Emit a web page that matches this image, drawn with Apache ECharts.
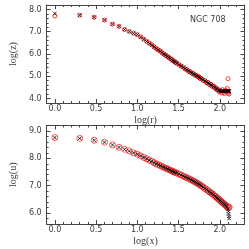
<!DOCTYPE html>
<html><head><meta charset="utf-8">
<script src="https://cdn.jsdelivr.net/npm/echarts@6/dist/echarts.min.js"></script>
<style>html,body{margin:0;padding:0;background:#fff}#c{width:249px;height:249px}</style>
</head><body><div id="c"></div>
<script>
// log of radius (x values shared by both panels)
const xLog = [0,0.301,0.477,0.602,0.699,0.778,0.845,0.903,0.954,1.000,
 1.041,1.079,1.114,1.146,1.176,1.204,1.230,1.255,1.279,1.301,
 1.322,1.342,1.362,1.380,1.398,1.415,1.431,1.447,1.462,1.477,
 1.505,1.531,1.556,1.580,1.602,1.623,1.643,1.663,1.681,1.699,1.716,1.732,1.748,1.763,1.778,
 1.799,1.820,1.839,1.857,1.875,1.892,1.908,1.924,1.940,1.954,1.968,1.982,1.996,2.009,2.021,2.033,2.045,2.057,2.068,2.079,2.090,
 2.100,2.104,2.107,2.111,2.114];
// top panel: log(z)
const zBlack = [7.82,7.74,7.65,7.52,7.34,7.24,7.10,7.01,6.93,6.87,
 6.76,6.66,6.57,6.48,6.40,6.32,6.25,6.18,6.12,6.06,
 6.00,5.95,5.89,5.85,5.80,5.75,5.71,5.67,5.63,5.59,
 5.52,5.46,5.40,5.34,5.29,5.24,5.19,5.15,5.11,5.07,5.03,5.00,4.96,4.93,4.89,
 4.84,4.79,4.74,4.70,4.66,4.62,4.58,4.54,4.50,4.46,4.42,4.38,4.35,4.34,4.33,4.34,4.33,4.34,4.35,4.34,4.33,
 4.34,4.33,4.35,4.34,4.33];
const zRed = [7.70,7.74,7.65,7.52,7.34,7.24,7.10,7.01,6.93,6.87,
 6.77,6.66,6.56,6.48,6.41,6.32,6.24,6.18,6.13,6.05,
 6.00,5.94,5.90,5.84,5.80,5.76,5.70,5.67,5.62,5.59,
 5.53,5.45,5.41,5.33,5.30,5.22,5.20,5.13,5.12,5.05,5.04,4.98,4.97,4.90,4.90,
 4.81,4.80,4.71,4.72,4.62,4.64,4.55,4.56,4.46,4.48,4.38,4.40,4.30,4.36,4.25,4.40,4.28,4.22,4.38,4.30,4.45,
 4.89,4.24,4.30,4.20,null];
// bottom panel: log(u)
const uBlack = [8.76,8.73,8.66,8.59,8.49,8.40,8.33,8.27,8.20,8.15,
 8.09,8.03,7.98,7.93,7.89,7.84,7.80,7.77,7.73,7.70,
 7.67,7.64,7.62,7.59,7.57,7.54,7.52,7.50,7.48,7.46,
 7.42,7.39,7.35,7.32,7.29,7.26,7.23,7.20,7.17,7.14,7.11,7.08,7.05,7.02,6.99,
 6.95,6.90,6.86,6.82,6.78,6.74,6.71,6.67,6.62,6.59,6.55,6.52,6.48,6.45,6.41,6.38,6.35,6.32,6.29,6.26,6.22,
 6.15,6.06,5.97,5.88,5.80];
const uRed = [8.76,8.73,8.66,8.59,8.49,8.40,8.33,8.27,8.20,8.15,
 8.09,8.03,7.98,7.93,7.89,7.84,7.80,7.77,7.73,7.70,
 7.67,7.64,7.62,7.59,7.57,7.54,7.52,7.50,7.48,7.46,
 7.42,7.39,7.35,7.32,7.29,7.26,7.23,7.20,7.17,7.14,7.11,7.08,7.05,7.02,6.99,
 6.95,6.90,6.86,6.82,6.78,6.74,6.71,6.67,6.62,6.59,6.55,6.52,6.48,6.45,6.41,6.38,6.35,6.32,6.29,6.26,6.23,
 6.20,null,6.20,null,6.22];
// tick labels
const xTicks = [0, 0.5, 1.0, 1.5, 2.0];
const zTicks = [4, 5, 6, 7, 8];
const uTicks = [6, 7, 8, 9];

function steps(a, b, s){ const r=[]; for(let v=a; v<=b+1e-9; v+=s) r.push(+v.toFixed(3)); return r; }
const AX = '#444', TXT = '#3a3a3a';
const labelFont = {fontFamily:'DejaVu Sans', fontSize:8, color:TXT};
const nameFont = {fontFamily:'Liberation Serif', fontSize:10, color:TXT};

function xAxes(grid, name){
  const base = {gridIndex:grid, type:'value', min:-0.1, max:2.3, splitLine:{show:false}};
  return [
    Object.assign({}, base, {position:'bottom', name:name, nameLocation:'middle', nameGap:12, nameTextStyle:nameFont,
      axisLine:{show:true, onZero:false, lineStyle:{color:AX, width:1}},
      axisTick:{show:true, inside:true, length:4, customValues:xTicks, lineStyle:{color:AX}},
      axisLabel:Object.assign({show:true, margin:2, customValues:xTicks, formatter:v=>(+v).toFixed(1)}, labelFont)}),
    Object.assign({}, base, {position:'bottom', axisLine:{show:false, onZero:false},
      axisTick:{show:true, inside:true, length:2, customValues:steps(-0.1,2.3,0.1), lineStyle:{color:AX}}, axisLabel:{show:false}}),
    Object.assign({}, base, {position:'top', axisLine:{show:true, onZero:false, lineStyle:{color:AX, width:1}},
      axisTick:{show:true, inside:true, length:4, customValues:xTicks, lineStyle:{color:AX}}, axisLabel:{show:false}}),
    Object.assign({}, base, {position:'top', axisLine:{show:false, onZero:false},
      axisTick:{show:true, inside:true, length:2, customValues:steps(-0.1,2.3,0.1), lineStyle:{color:AX}}, axisLabel:{show:false}})
  ];
}
function yAxes(grid, name, mn, mx, ticks){
  const base = {gridIndex:grid, type:'value', min:mn, max:mx, splitLine:{show:false}};
  const minor = steps(mn, mx, 0.2);
  return [
    Object.assign({}, base, {position:'left', name:name, nameLocation:'middle', nameGap:23, nameTextStyle:nameFont,
      axisLine:{show:true, onZero:false, lineStyle:{color:AX, width:1}},
      axisTick:{show:true, inside:true, length:4, customValues:ticks, lineStyle:{color:AX}},
      axisLabel:Object.assign({show:true, margin:5, customValues:ticks, formatter:v=>(+v).toFixed(1)}, labelFont)}),
    Object.assign({}, base, {position:'left', axisLine:{show:false, onZero:false},
      axisTick:{show:true, inside:true, length:2, customValues:minor, lineStyle:{color:AX}}, axisLabel:{show:false}}),
    Object.assign({}, base, {position:'right', axisLine:{show:true, onZero:false, lineStyle:{color:AX, width:1}},
      axisTick:{show:true, inside:true, length:4, customValues:ticks, lineStyle:{color:AX}}, axisLabel:{show:false}}),
    Object.assign({}, base, {position:'right', axisLine:{show:false, onZero:false},
      axisTick:{show:true, inside:true, length:2, customValues:minor, lineStyle:{color:AX}}, axisLabel:{show:false}})
  ];
}
function pairs(xs, ys){ const r=[]; xs.forEach((x,i)=>{ if(ys[i]!=null) r.push([x, ys[i]]); }); return r; }
const cross = 'path://M0,0L10,10M10,0L0,10';
function redSeries(xi, yi, data, size, col){
  return {type:'scatter', xAxisIndex:xi, yAxisIndex:yi, data:data, symbol:'circle', symbolSize:size, silent:true,
    itemStyle:{color:'rgba(0,0,0,0)', borderColor:col, borderWidth:1}};
}
function blackSeries(xi, yi, data, size){
  return {type:'scatter', xAxisIndex:xi, yAxisIndex:yi, data:data, symbol:cross, symbolSize:size, silent:true,
    itemStyle:{color:'rgba(0,0,0,0)', borderColor:'#000', borderWidth:1}};
}

const chart = echarts.init(document.getElementById('c'), null, {renderer:'canvas'});
chart.setOption({
  animation:false,
  backgroundColor:'#fff',
  grid:[
    {left:32, right:4.5, top:5, height:98},
    {left:32, right:4.5, top:125.5, height:98.5}
  ],
  xAxis: xAxes(0, 'log(r)').concat(xAxes(1, 'log(x)')),
  yAxis: yAxes(0, 'log(z)', 3.8, 8.2, zTicks).concat(yAxes(1, 'log(u)', 5.6, 9.2, uTicks)),
  series:[
    redSeries(0, 0, pairs(xLog, zRed), 4, '#ff1010'),
    blackSeries(0, 0, pairs(xLog, zBlack), 3.5),
    redSeries(4, 4, pairs(xLog, uRed), 6, '#ff3030'),
    blackSeries(4, 4, pairs(xLog, uBlack), 3.5)
  ],
  graphic:[{type:'text', left:190, top:16, style:{text:'NGC 708', fontFamily:'DejaVu Sans', fontSize:8, fill:TXT}}]
});
</script>
</body></html>
